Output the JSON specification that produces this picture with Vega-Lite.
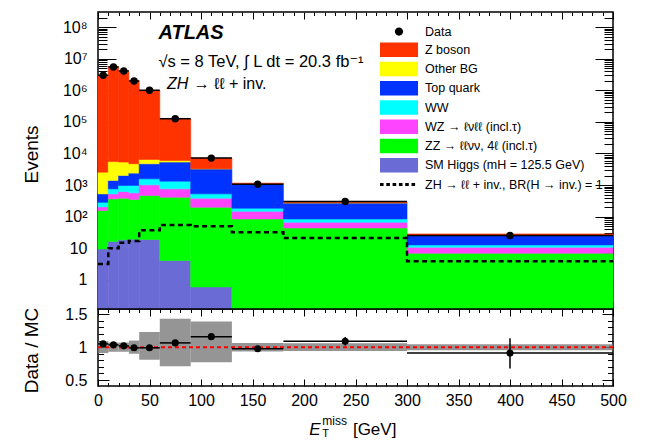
{
"$schema":"https://vega.github.io/schema/vega-lite/v6.json",
"padding":{"left":21,"top":10,"right":10,"bottom":0},
"config":{
 "font":"Liberation Sans, DejaVu Sans",
 "view":{"stroke":"black","strokeWidth":1.5},
 "axis":{"grid":false,"domain":false,"labelFont":"Liberation Sans, DejaVu Sans","labelFontSize":16,"labelColor":"black","tickColor":"black","tickWidth":1,"titleFont":"Liberation Sans, DejaVu Sans","titleFontSize":19,"titleFontWeight":"normal","titleColor":"black","labelFlush":false,"labelOverlap":false}
},
"datasets":{
 "mc":[
  {"lo":0,"hi":10,"process":"SM Higgs (mH = 125.5 GeV)","ord":1,"events":9.5},
  {"lo":0,"hi":10,"process":"ZZ → ℓℓνν, 4ℓ (incl.τ)","ord":2,"events":148},
  {"lo":0,"hi":10,"process":"WZ → ℓνℓℓ (incl.τ)","ord":3,"events":47},
  {"lo":0,"hi":10,"process":"WW","ord":4,"events":83},
  {"lo":0,"hi":10,"process":"Top quark","ord":5,"events":240},
  {"lo":0,"hi":10,"process":"Other BG","ord":6,"events":2040},
  {"lo":0,"hi":10,"process":"Z boson","ord":7,"events":2997000},
  {"lo":10,"hi":20,"process":"SM Higgs (mH = 125.5 GeV)","ord":1,"events":16.4},
  {"lo":10,"hi":20,"process":"ZZ → ℓℓνν, 4ℓ (incl.τ)","ord":2,"events":350},
  {"lo":10,"hi":20,"process":"WZ → ℓνℓℓ (incl.τ)","ord":3,"events":161},
  {"lo":10,"hi":20,"process":"WW","ord":4,"events":232},
  {"lo":10,"hi":20,"process":"Top quark","ord":5,"events":644},
  {"lo":10,"hi":20,"process":"Other BG","ord":6,"events":4133},
  {"lo":10,"hi":20,"process":"Z boson","ord":7,"events":5594000},
  {"lo":20,"hi":30,"process":"SM Higgs (mH = 125.5 GeV)","ord":1,"events":18.7},
  {"lo":20,"hi":30,"process":"ZZ → ℓℓνν, 4ℓ (incl.τ)","ord":2,"events":367},
  {"lo":20,"hi":30,"process":"WZ → ℓνℓℓ (incl.τ)","ord":3,"events":243},
  {"lo":20,"hi":30,"process":"WW","ord":4,"events":346},
  {"lo":20,"hi":30,"process":"Top quark","ord":5,"events":1048},
  {"lo":20,"hi":30,"process":"Other BG","ord":6,"events":3314},
  {"lo":20,"hi":30,"process":"Z boson","ord":7,"events":3995000},
  {"lo":30,"hi":40,"process":"SM Higgs (mH = 125.5 GeV)","ord":1,"events":19.4},
  {"lo":30,"hi":40,"process":"ZZ → ℓℓνν, 4ℓ (incl.τ)","ord":2,"events":332},
  {"lo":30,"hi":40,"process":"WZ → ℓνℓℓ (incl.τ)","ord":3,"events":217},
  {"lo":30,"hi":40,"process":"WW","ord":4,"events":407},
  {"lo":30,"hi":40,"process":"Top quark","ord":5,"events":1418},
  {"lo":30,"hi":40,"process":"Other BG","ord":6,"events":2324},
  {"lo":30,"hi":40,"process":"Z boson","ord":7,"events":1995000},
  {"lo":40,"hi":60,"process":"SM Higgs (mH = 125.5 GeV)","ord":1,"events":18.9},
  {"lo":40,"hi":60,"process":"ZZ → ℓℓνν, 4ℓ (incl.τ)","ord":2,"events":451},
  {"lo":40,"hi":60,"process":"WZ → ℓνℓℓ (incl.τ)","ord":3,"events":548},
  {"lo":40,"hi":60,"process":"WW","ord":4,"events":560},
  {"lo":40,"hi":60,"process":"Top quark","ord":5,"events":3139},
  {"lo":40,"hi":60,"process":"Other BG","ord":6,"events":1784},
  {"lo":40,"hi":60,"process":"Z boson","ord":7,"events":993500},
  {"lo":60,"hi":90,"process":"SM Higgs (mH = 125.5 GeV)","ord":1,"events":4.1},
  {"lo":60,"hi":90,"process":"ZZ → ℓℓνν, 4ℓ (incl.τ)","ord":2,"events":411},
  {"lo":60,"hi":90,"process":"WZ → ℓνℓℓ (incl.τ)","ord":3,"events":345},
  {"lo":60,"hi":90,"process":"WW","ord":4,"events":574},
  {"lo":60,"hi":90,"process":"Top quark","ord":5,"events":4003},
  {"lo":60,"hi":90,"process":"Other BG","ord":6,"events":706},
  {"lo":60,"hi":90,"process":"Z boson","ord":7,"events":119900},
  {"lo":90,"hi":130,"process":"SM Higgs (mH = 125.5 GeV)","ord":1,"events":0.6},
  {"lo":90,"hi":130,"process":"ZZ → ℓℓνν, 4ℓ (incl.τ)","ord":2,"events":199},
  {"lo":90,"hi":130,"process":"WZ → ℓνℓℓ (incl.τ)","ord":3,"events":186},
  {"lo":90,"hi":130,"process":"WW","ord":4,"events":142},
  {"lo":90,"hi":130,"process":"Top quark","ord":5,"events":2746},
  {"lo":90,"hi":130,"process":"Other BG","ord":6,"events":30},
  {"lo":90,"hi":130,"process":"Z boson","ord":7,"events":3842},
  {"lo":130,"hi":180,"process":"ZZ → ℓℓνν, 4ℓ (incl.τ)","ord":2,"events":85},
  {"lo":130,"hi":180,"process":"WZ → ℓνℓℓ (incl.τ)","ord":3,"events":64},
  {"lo":130,"hi":180,"process":"WW","ord":4,"events":37},
  {"lo":130,"hi":180,"process":"Top quark","ord":5,"events":863},
  {"lo":130,"hi":180,"process":"Other BG","ord":6,"events":5},
  {"lo":130,"hi":180,"process":"Z boson","ord":7,"events":99},
  {"lo":180,"hi":300,"process":"ZZ → ℓℓνν, 4ℓ (incl.τ)","ord":2,"events":44},
  {"lo":180,"hi":300,"process":"WZ → ℓνℓℓ (incl.τ)","ord":3,"events":23},
  {"lo":180,"hi":300,"process":"WW","ord":4,"events":18},
  {"lo":180,"hi":300,"process":"Top quark","ord":5,"events":189},
  {"lo":180,"hi":300,"process":"Other BG","ord":6,"events":1},
  {"lo":180,"hi":300,"process":"Z boson","ord":7,"events":28},
  {"lo":300,"hi":500,"process":"ZZ → ℓℓνν, 4ℓ (incl.τ)","ord":2,"events":7.0},
  {"lo":300,"hi":500,"process":"WZ → ℓνℓℓ (incl.τ)","ord":3,"events":3.8},
  {"lo":300,"hi":500,"process":"WW","ord":4,"events":2.0},
  {"lo":300,"hi":500,"process":"Top quark","ord":5,"events":12.6},
  {"lo":300,"hi":500,"process":"Other BG","ord":6,"events":0.3},
  {"lo":300,"hi":500,"process":"Z boson","ord":7,"events":2.8}
 ],
 "obs":[
  {"lo":0,"hi":10,"center":5,"events":2990000,"ymin":2988300,"ymax":2991700},
  {"lo":10,"hi":20,"center":15,"events":5480000,"ymin":5477700,"ymax":5482300},
  {"lo":20,"hi":30,"center":25,"events":4090000,"ymin":4088000,"ymax":4092000},
  {"lo":30,"hi":40,"center":35,"events":1970000,"ymin":1968600,"ymax":1971400},
  {"lo":40,"hi":60,"center":50,"events":1000000,"ymin":999000,"ymax":1001000},
  {"lo":60,"hi":90,"center":75,"events":126000,"ymin":125650,"ymax":126350},
  {"lo":90,"hi":130,"center":110,"events":7150,"ymin":7065,"ymax":7235},
  {"lo":130,"hi":180,"center":155,"events":1070,"ymin":1037,"ymax":1103},
  {"lo":180,"hi":300,"center":240,"events":303,"ymin":285.6,"ymax":320.4},
  {"lo":300,"hi":500,"center":400,"events":25.4,"ymin":20.4,"ymax":31.5}
 ],
 "sig":[
  {"lo":0,"hi":10,"events":3.2},
  {"lo":10,"hi":20,"events":10},
  {"lo":20,"hi":30,"events":15},
  {"lo":30,"hi":40,"events":17},
  {"lo":40,"hi":60,"events":37},
  {"lo":60,"hi":90,"events":55},
  {"lo":90,"hi":130,"events":50},
  {"lo":130,"hi":180,"events":32},
  {"lo":180,"hi":300,"events":21},
  {"lo":300,"hi":500,"events":3.9}
 ],
 "ratio":[
  {"lo":0,"hi":10,"center":5,"ratio":1.05,"rmin":1.048,"rmax":1.052,"sys_lo":0.91,"sys_hi":1.09},
  {"lo":10,"hi":20,"center":15,"ratio":1.035,"rmin":1.033,"rmax":1.037,"sys_lo":0.93,"sys_hi":1.07},
  {"lo":20,"hi":30,"center":25,"ratio":1.02,"rmin":1.018,"rmax":1.022,"sys_lo":0.93,"sys_hi":1.07},
  {"lo":30,"hi":40,"center":35,"ratio":0.99,"rmin":0.988,"rmax":0.992,"sys_lo":0.9,"sys_hi":1.1},
  {"lo":40,"hi":60,"center":50,"ratio":0.99,"rmin":0.988,"rmax":0.992,"sys_lo":0.81,"sys_hi":1.23},
  {"lo":60,"hi":90,"center":75,"ratio":1.065,"rmin":1.061,"rmax":1.069,"sys_lo":0.71,"sys_hi":1.43},
  {"lo":90,"hi":130,"center":110,"ratio":1.16,"rmin":1.146,"rmax":1.174,"sys_lo":0.77,"sys_hi":1.39},
  {"lo":130,"hi":180,"center":155,"ratio":0.975,"rmin":0.945,"rmax":1.005,"sys_lo":0.935,"sys_hi":1.065},
  {"lo":180,"hi":300,"center":240,"ratio":1.09,"rmin":1.027,"rmax":1.153,"sys_lo":0.94,"sys_hi":1.06},
  {"lo":300,"hi":500,"center":400,"ratio":0.91,"rmin":0.675,"rmax":1.135,"sys_lo":0.955,"sys_hi":1.045}
 ]
},
"spacing":0,
"bounds":"flush",
"resolve":{"scale":{"color":"independent","stroke":"independent"},"legend":{"color":"independent"}},
"vconcat":[
 {
  "width":515,"height":297,
  "resolve":{"axis":{"x":"independent","y":"independent"}},
  "layer":[
   {
    "data":{"name":"mc"},
    "transform":[{"stack":"events","groupby":["lo"],"sort":[{"field":"ord","order":"ascending"}],"as":["v0","v1"]}],
    "mark":{"type":"rect","strokeWidth":0.6},
    "encoding":{
     "x":{"field":"lo","type":"quantitative","scale":{"domain":[0,500],"nice":false,"zero":false},
          "axis":{"orient":"bottom","values":[0,50,100,150,200,250,300,350,400,450,500],"labels":false,"tickSize":-7,"title":null}},
     "x2":{"field":"hi"},
     "y":{"field":"v1","type":"quantitative","stack":null,"scale":{"type":"log","domain":[0.12,300000000],"nice":false,"clamp":true},
          "axis":{"orient":"left","values":[1,10,100,1000,10000,100000,1000000,10000000,100000000],"tickSize":-18,"labelPadding":29,
                  "labelExpr":"datum.value < 5 ? '1' : (datum.value < 50 ? '10' : '10' + ['', '', '²', '³', '⁴', '⁵', '⁶', '⁷', '⁸'][round(log(datum.value) / LN10)])",
                  "title":"Events","titleX":-67,"titleY":142,"titleBaseline":"middle"}},
     "y2":{"field":"v0"},
     "stroke":{"field":"process","type":"nominal","legend":null,
       "scale":{"domain":["Data","Z boson","Other BG","Top quark","WW","WZ → ℓνℓℓ (incl.τ)","ZZ → ℓℓνν, 4ℓ (incl.τ)","SM Higgs (mH = 125.5 GeV)","ZH → ℓℓ + inv., BR(H → inv.) = 1"],
                "range":["black","#ff3300","#ffff00","#0033ff","#00ffff","#ff44ff","#00ff00","#6b6bd6","black"]}},
     "color":{"field":"process","type":"nominal",
       "scale":{"domain":["Data","Z boson","Other BG","Top quark","WW","WZ → ℓνℓℓ (incl.τ)","ZZ → ℓℓνν, 4ℓ (incl.τ)","SM Higgs (mH = 125.5 GeV)","ZH → ℓℓ + inv., BR(H → inv.) = 1"],
                "range":["black","#ff3300","#ffff00","#0033ff","#00ffff","#ff44ff","#00ff00","#6b6bd6","black"]},
       "legend":{"orient":"none","legendX":282,"legendY":12,"title":null,"padding":0,"symbolSize":225,"symbolType":"M-1,-0.96H4.07V0.96H-1Z","symbolStrokeWidth":0,"symbolOpacity":1,
                 "labelFont":"Liberation Sans, DejaVu Sans","labelFontSize":12.5,"labelColor":"black","labelLimit":320,"labelOffset":30,"rowPadding":4.25,
                 "encode":{"symbols":{"update":{
                   "shape":{"signal":"datum.value == 'Data' ? 'M0.983,0A0.55,0.55 0 1,0 2.083,0A0.55,0.55 0 1,0 0.983,0Z' : (indexof(datum.value, 'BR(') >= 0 ? 'M-1,-0.2H-0.52V0.2H-1Z M-0.16,-0.2H0.32V0.2H-0.16Z M0.68,-0.2H1.16V0.2H0.68Z M1.52,-0.2H2V0.2H1.52Z M2.36,-0.2H2.84V0.2H2.36Z M3.2,-0.2H3.68V0.2H3.2Z' : 'M-1,-0.96H4.07V0.96H-1Z')"}}}}}}
    }
   },
   {
    "data":{"name":"sig"},
    "transform":[{"fold":["lo","hi"],"as":["edge_key","edge"]}],
    "mark":{"type":"line","color":"black","strokeWidth":2.5,"strokeDash":[5,3.5]},
    "encoding":{
     "x":{"field":"edge","type":"quantitative","axis":{"orient":"bottom","values":[10,20,30,40,60,70,80,90,110,120,130,140,160,170,180,190,210,220,230,240,260,270,280,290,310,320,330,340,360,370,380,390,410,420,430,440,460,470,480,490],"labels":false,"tickSize":-3.5,"title":null}},
     "y":{"field":"events","type":"quantitative","axis":{"orient":"left","values":[0.2,0.3,0.4,0.5,0.6,0.7,0.8,0.9,2,3,4,5,6,7,8,9,20,30,40,50,60,70,80,90,200,300,400,500,600,700,800,900,2000,3000,4000,5000,6000,7000,8000,9000,20000,30000,40000,50000,60000,70000,80000,90000,200000,300000,400000,500000,600000,700000,800000,900000,2000000,3000000,4000000,5000000,6000000,7000000,8000000,9000000,20000000,30000000,40000000,50000000,60000000,70000000,80000000,90000000,200000000],"labels":false,"tickSize":-9,"title":null}},
     "order":[{"field":"edge","type":"quantitative"},{"field":"edge_key","type":"nominal"}]
    }
   },
   {
    "data":{"name":"obs"},
    "mark":{"type":"rule","color":"black","strokeWidth":1.5},
    "encoding":{
     "x":{"field":"lo","type":"quantitative","axis":{"orient":"top","values":[0,50,100,150,200,250,300,350,400,450,500],"labels":false,"tickSize":-7,"title":null}},
     "x2":{"field":"hi"},
     "y":{"field":"events","type":"quantitative","axis":{"orient":"right","values":[1,10,100,1000,10000,100000,1000000,10000000,100000000],"labels":false,"tickSize":-18,"title":null}}
    }
   },
   {
    "data":{"name":"obs"},
    "mark":{"type":"rule","color":"black","strokeWidth":1.5},
    "encoding":{
     "x":{"field":"center","type":"quantitative","axis":{"orient":"top","values":[10,20,30,40,60,70,80,90,110,120,130,140,160,170,180,190,210,220,230,240,260,270,280,290,310,320,330,340,360,370,380,390,410,420,430,440,460,470,480,490],"labels":false,"tickSize":-3.5,"title":null}},
     "y":{"field":"ymin","type":"quantitative","axis":{"orient":"right","values":[0.2,0.3,0.4,0.5,0.6,0.7,0.8,0.9,2,3,4,5,6,7,8,9,20,30,40,50,60,70,80,90,200,300,400,500,600,700,800,900,2000,3000,4000,5000,6000,7000,8000,9000,20000,30000,40000,50000,60000,70000,80000,90000,200000,300000,400000,500000,600000,700000,800000,900000,2000000,3000000,4000000,5000000,6000000,7000000,8000000,9000000,20000000,30000000,40000000,50000000,60000000,70000000,80000000,90000000,200000000],"labels":false,"tickSize":-9,"title":null}},
     "y2":{"field":"ymax"}
    }
   },
   {
    "data":{"name":"obs"},
    "mark":{"type":"point","filled":true,"color":"black","size":55,"opacity":1},
    "encoding":{
     "x":{"field":"center","type":"quantitative","axis":null},
     "y":{"field":"events","type":"quantitative","axis":null}
    }
   },
   {
    "data":{"values":[{}]},
    "mark":{"type":"text","text":"ATLAS","align":"left","baseline":"alphabetic","fontSize":20,"fontStyle":"italic","fontWeight":"bold","font":"Liberation Sans, DejaVu Sans","color":"black"},
    "encoding":{"x":{"datum":58.7,"type":"quantitative","axis":null},"y":{"datum":42000000,"type":"quantitative","axis":null}}
   },
   {
    "data":{"values":[{}]},
    "mark":{"type":"text","text":"√s = 8 TeV,  ∫ L dt = 20.3 fb⁻¹","align":"left","baseline":"alphabetic","fontSize":16.5,"font":"Liberation Sans, DejaVu Sans","color":"black"},
    "encoding":{"x":{"datum":58.7,"type":"quantitative","axis":null},"y":{"datum":5480000,"type":"quantitative","axis":null}}
   },
   {
    "data":{"values":[{}]},
    "mark":{"type":"text","text":"ZH","align":"left","baseline":"alphabetic","fontSize":16,"fontStyle":"italic","font":"Liberation Sans, DejaVu Sans","color":"black"},
    "encoding":{"x":{"datum":67,"type":"quantitative","axis":null},"y":{"datum":1080000,"type":"quantitative","axis":null}}
   },
   {
    "data":{"values":[{}]},
    "mark":{"type":"text","text":"→ ℓℓ + inv.","align":"left","baseline":"alphabetic","fontSize":16,"font":"Liberation Sans, DejaVu Sans","color":"black"},
    "encoding":{"x":{"datum":93,"type":"quantitative","axis":null},"y":{"datum":1080000,"type":"quantitative","axis":null}}
   }
  ]
 },
 {
  "width":515,"height":77,
  "resolve":{"axis":{"x":"independent","y":"independent"}},
  "layer":[
   {
    "data":{"name":"ratio"},
    "mark":{"type":"rect","color":"#7a7a7a","opacity":0.8,"strokeWidth":0},
    "encoding":{
     "x":{"field":"lo","type":"quantitative","scale":{"domain":[0,500],"nice":false,"zero":false},
          "axis":{"orient":"bottom","values":[0,50,100,150,200,250,300,350,400,450,500],"tickSize":-7,"labelPadding":13,"title":null}},
     "x2":{"field":"hi"},
     "y":{"field":"sys_lo","type":"quantitative","scale":{"domain":[0.41,1.58],"nice":false,"zero":false},
          "axis":{"orient":"left","values":[0.5,1,1.5],"tickSize":-11,"labelPadding":22,"labelExpr":"datum.value == 1 ? '1' : format(datum.value, '.1f')","title":"Data / MC","titleX":-67,"titleY":41,"titleBaseline":"middle"}},
     "y2":{"field":"sys_hi"}
    }
   },
   {
    "data":{"values":[{}]},
    "mark":{"type":"rule","color":"#ff0000","strokeWidth":2,"strokeDash":[4,3]},
    "encoding":{"y":{"datum":1,"type":"quantitative","axis":null}}
   },
   {
    "data":{"name":"ratio"},
    "mark":{"type":"rule","color":"black","strokeWidth":1.5},
    "encoding":{
     "x":{"field":"lo","type":"quantitative","axis":{"orient":"top","values":[0,50,100,150,200,250,300,350,400,450,500],"labels":false,"tickSize":-7,"title":null}},
     "x2":{"field":"hi"},
     "y":{"field":"ratio","type":"quantitative","axis":{"orient":"right","values":[0.5,1,1.5],"labels":false,"tickSize":-11,"title":null}}
    }
   },
   {
    "data":{"name":"ratio"},
    "mark":{"type":"rule","color":"black","strokeWidth":1.5},
    "encoding":{
     "x":{"field":"center","type":"quantitative","axis":{"orient":"bottom","values":[10,20,30,40,60,70,80,90,110,120,130,140,160,170,180,190,210,220,230,240,260,270,280,290,310,320,330,340,360,370,380,390,410,420,430,440,460,470,480,490],"labels":false,"tickSize":-3.5,"title":null}},
     "y":{"field":"rmin","type":"quantitative","axis":{"orient":"left","values":[0.6,0.7,0.8,0.9,1.1,1.2,1.3,1.4],"labels":false,"tickSize":-5.5,"title":null}},
     "y2":{"field":"rmax"}
    }
   },
   {
    "data":{"name":"ratio"},
    "mark":{"type":"point","filled":true,"color":"black","size":50,"opacity":1},
    "encoding":{
     "x":{"field":"center","type":"quantitative","axis":{"orient":"top","values":[10,20,30,40,60,70,80,90,110,120,130,140,160,170,180,190,210,220,230,240,260,270,280,290,310,320,330,340,360,370,380,390,410,420,430,440,460,470,480,490],"labels":false,"tickSize":-3.5,"title":null}},
     "y":{"field":"ratio","type":"quantitative","axis":{"orient":"right","values":[0.6,0.7,0.8,0.9,1.1,1.2,1.3,1.4],"labels":false,"tickSize":-5.5,"title":null}}
    }
   },
   {
    "data":{"values":[{}]},
    "mark":{"type":"text","text":"E","align":"left","baseline":"alphabetic","fontSize":17,"fontStyle":"italic","font":"Liberation Sans, DejaVu Sans","color":"black"},
    "encoding":{"x":{"datum":205,"type":"quantitative","axis":null},"y":{"datum":-0.33,"type":"quantitative","axis":null}}
   },
   {
    "data":{"values":[{}]},
    "mark":{"type":"text","text":"miss","align":"left","baseline":"alphabetic","fontSize":12,"font":"Liberation Sans, DejaVu Sans","color":"black"},
    "encoding":{"x":{"datum":217.7,"type":"quantitative","axis":null},"y":{"datum":-0.18,"type":"quantitative","axis":null}}
   },
   {
    "data":{"values":[{}]},
    "mark":{"type":"text","text":"T","align":"left","baseline":"alphabetic","fontSize":11,"font":"Liberation Sans, DejaVu Sans","color":"black"},
    "encoding":{"x":{"datum":217.7,"type":"quantitative","axis":null},"y":{"datum":-0.36,"type":"quantitative","axis":null}}
   },
   {
    "data":{"values":[{}]},
    "mark":{"type":"text","text":"[GeV]","align":"left","baseline":"alphabetic","fontSize":17,"font":"Liberation Sans, DejaVu Sans","color":"black"},
    "encoding":{"x":{"datum":247.5,"type":"quantitative","axis":null},"y":{"datum":-0.33,"type":"quantitative","axis":null}}
   }
  ]
 }
]
}
